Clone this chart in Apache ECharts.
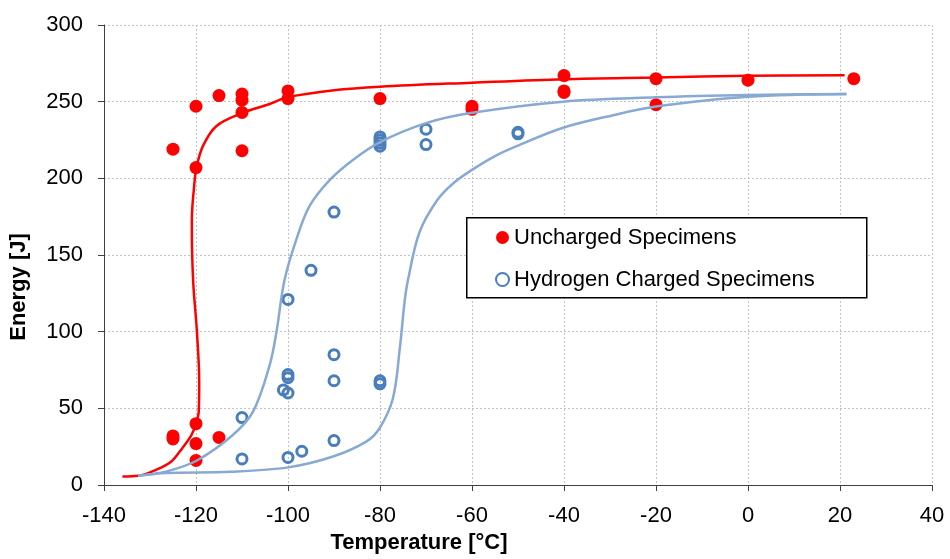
<!DOCTYPE html>
<html>
<head>
<meta charset="utf-8">
<script src="https://cdn.jsdelivr.net/npm/echarts@6/dist/echarts.min.js"></script>
<style>
  html, body { margin: 0; padding: 0; background: #fff; }
  #chart { width: 950px; height: 559px; }
</style>
</head>
<body>
<div id="chart"></div>
<script>
// ---- Data ----
var xTicks = [-140, -120, -100, -80, -60, -40, -20, 0, 20, 40];
var yTicks = [0, 50, 100, 150, 200, 250, 300];

var unchargedT = [-125, -120, -120, -115, -110, -110, -110, -110, -100, -100, -80, -60, -60, -40, -40, -40, -20, -20, 0, 23, -120, -125, -125, -120, -115, -120];
var unchargedE = [219, 247, 207, 254, 255, 251, 243, 218, 257, 252, 252, 247, 245, 267, 257, 256, 265, 248, 264, 265, 40, 32, 30, 27, 31, 16];

var chargedT = [-90, -95, -100, -90, -100, -100, -101, -100, -90, -80, -80, -110, -110, -100, -97, -90, -80, -80, -80, -80, -70, -70, -50, -50];
var chargedE = [178, 140, 121, 85, 72, 70, 62, 60, 68, 68, 66, 44, 17, 18, 22, 29, 227, 225, 223, 221, 232, 222, 230, 229];

// fitted curves
var redCurveT = [-136, -132.5, -128.6, -125.5, -123.5, -121, -120, -119.4, -119.3, -119.8, -120.6, -120.9, -120.9, -120.4, -119.9, -118.5, -115.6, -110, -104, -100, -90, -80, -60, -40, -20, 0, 21];
var redCurveE = [5.5, 6, 10, 15, 22, 32.6, 40, 48, 67, 100, 132, 165, 173, 195, 207, 221, 234, 242.5, 248.5, 253, 257.5, 259.8, 262.4, 264.7, 265.8, 266.9, 267.3];

var blueCurve1T = [-132.6, -126.4, -119.9, -112, -107.6, -104, -102.5, -100.8, -98.2, -95.3, -90.9, -85.9, -80.1, -70, -60.3, -40.2, -20, 0, 21.4];
var blueCurve1E = [6, 8.9, 15.8, 32.6, 47.8, 78, 100, 133, 160, 182, 199, 212, 223.5, 236, 242.6, 250, 252.8, 254.3, 255];

var blueCurve2T = [-132.6, -126.4, -112.5, -100, -90.2, -83, -80.1, -77.2, -75.7, -74.6, -73.9, -71.4, -67.5, -64, -60, -55, -50.3, -40.2, -29.3, -20, 0, 21.4];
var blueCurve2E = [6, 7.8, 8.6, 11.5, 18.6, 28.3, 37, 56.4, 89, 121, 134, 165, 186, 197, 205.5, 214.5, 221, 233, 241.2, 246.8, 253.2, 255];

function zip(a, b) { return a.map(function (v, i) { return [v, b[i]]; }); }

var FONT = 'Liberation Sans, Arial, sans-serif';
var RED = '#FF0000';
var BLUE_MK = '#4A7EBB';
var BLUE_LN = '#87A9D3';

var chart = echarts.init(document.getElementById('chart'), null, { renderer: 'canvas' });

var option = {
  animation: false,
  backgroundColor: '#ffffff',
  grid: { left: 104, right: 18, top: 25, bottom: 72, containLabel: false },
  xAxis: {
    type: 'value',
    min: xTicks[0], max: xTicks[xTicks.length - 1], interval: 20,
    name: 'Temperature [°C]',
    nameLocation: 'middle',
    nameGap: 47,
    nameTextStyle: { fontFamily: FONT, fontSize: 22, fontWeight: 'bold', color: '#000', padding: [0, 198, 0, 0] },
    axisLine: { show: true, onZero: false, lineStyle: { color: '#404040', width: 1 } },
    axisTick: { show: true, inside: false, length: 6, lineStyle: { color: '#404040' } },
    axisLabel: { fontFamily: FONT, fontSize: 22, color: '#000', margin: 20 },
    splitLine: { show: true, lineStyle: { color: '#c4c4c4', type: [2, 2], width: 1 } }
  },
  yAxis: {
    type: 'value',
    min: yTicks[0], max: yTicks[yTicks.length - 1], interval: 50,
    name: 'Energy [J]',
    nameLocation: 'middle',
    nameRotate: 90,
    nameGap: 74,
    nameTextStyle: { fontFamily: FONT, fontSize: 22, fontWeight: 'bold', color: '#000', padding: [0, 64, 0, 0] },
    axisLine: { show: true, onZero: false, lineStyle: { color: '#404040', width: 1 } },
    axisTick: { show: true, inside: false, length: 6, lineStyle: { color: '#404040' } },
    axisLabel: { fontFamily: FONT, fontSize: 22, color: '#000', margin: 21 },
    splitLine: { show: true, lineStyle: { color: '#c4c4c4', type: [2, 2], width: 1 } }
  },
  graphic: [{
    type: 'rect',
    left: 466, top: 217, z: 3,
    shape: { width: 400, height: 80 },
    style: { fill: '#ffffff', stroke: '#000000', lineWidth: 1.5 }
  }],
  legend: {
    data: ['Uncharged Specimens', 'Hydrogen Charged Specimens'],
    orient: 'vertical',
    left: 495, top: 225,
    padding: 0,
    itemWidth: 13, itemHeight: 13,
    itemGap: 17,
    z: 5,
    textStyle: { fontFamily: FONT, fontSize: 22, color: '#000', lineHeight: 25 }
  },
  series: [
    {
      name: 'redCurve', type: 'line', data: zip(redCurveT, redCurveE),
      showSymbol: false, smooth: 0.35, z: 2, silent: true,
      lineStyle: { color: RED, width: 2.5 }
    },
    {
      name: 'Uncharged Specimens', type: 'scatter', data: zip(unchargedT, unchargedE),
      symbol: 'circle', symbolSize: 13, z: 3,
      itemStyle: { color: RED, opacity: 1 }
    },
    {
      name: 'Hydrogen Charged Specimens', type: 'scatter', data: zip(chargedT, chargedE),
      symbol: 'circle', symbolSize: 10, z: 3,
      itemStyle: { color: 'rgba(255,255,255,0)', borderColor: BLUE_MK, borderWidth: 3, opacity: 1 }
    },
    {
      name: 'blueCurve1', type: 'line', data: zip(blueCurve1T, blueCurve1E),
      showSymbol: false, smooth: 0.35, z: 4, silent: true,
      lineStyle: { color: BLUE_LN, width: 2.5 }
    },
    {
      name: 'blueCurve2', type: 'line', data: zip(blueCurve2T, blueCurve2E),
      showSymbol: false, smooth: 0.35, z: 4, silent: true,
      lineStyle: { color: BLUE_LN, width: 2.5 }
    }
  ]
};

chart.setOption(option);
</script>
</body>
</html>
